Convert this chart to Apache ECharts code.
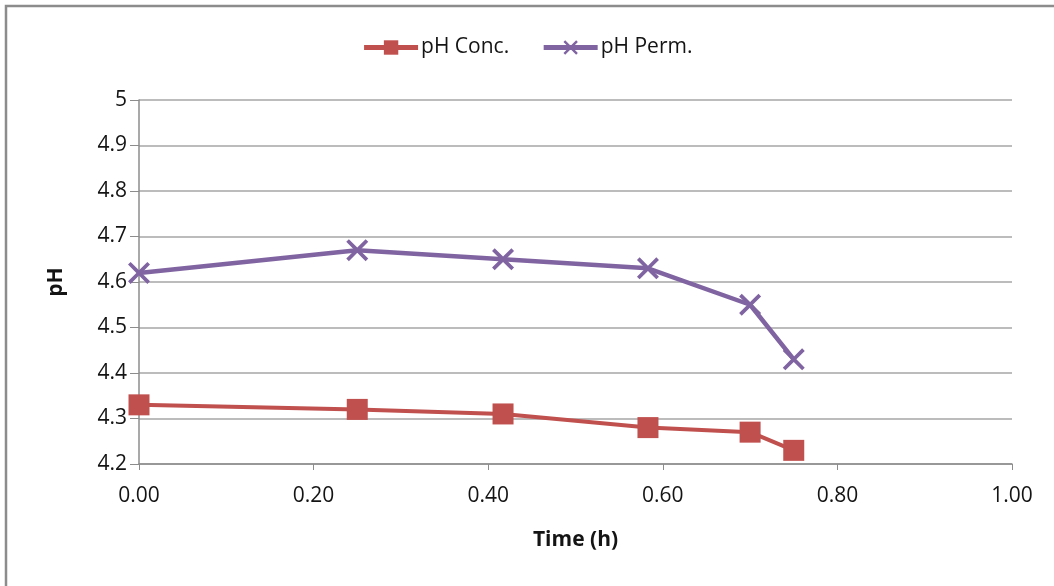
<!DOCTYPE html>
<html>
<head>
<meta charset="utf-8">
<script src="https://cdn.jsdelivr.net/npm/echarts@6/dist/echarts.min.js"></script>
<style>
  html, body { margin: 0; padding: 0; background: #fff; }
  #chart { width: 1054px; height: 586px; }
</style>
</head>
<body>
<div id="chart"></div>
<script>
// Sampling times (h) and measured pH of the two streams
const timeH = [0.00, 0.25, 0.417, 0.583, 0.70, 0.75];
const phConc = [4.33, 4.32, 4.31, 4.28, 4.27, 4.23];
const phPerm = [4.62, 4.67, 4.65, 4.63, 4.55, 4.43];
const seriesNames = ['pH Conc.', 'pH Perm.'];

const FONT = '"Open Sans", Lato, sans-serif';
const TEXT = '#141414';
const xMark = 'path://M0,1.2L1.2,0L5,3.8L8.8,0L10,1.2L6.2,5L10,8.8L8.8,10L5,6.2L1.2,10L0,8.8L3.8,5Z';

const chart = echarts.init(document.getElementById('chart'), null, { renderer: 'canvas' });
chart.setOption({
  backgroundColor: '#fff',
  animation: false,
  graphic: [{
    type: 'rect',
    shape: { x: 6, y: 6, width: 1100, height: 640 },
    style: { fill: 'none', stroke: '#8c8c8c', lineWidth: 2.5 },
    silent: true
  }],
  legend: {
    top: 32,
    left: 'center',
    itemGap: 32,
    itemWidth: 54,
    itemHeight: 18,
    lineStyle: { width: 5 },
    textStyle: { fontFamily: FONT, fontSize: 21, color: TEXT, padding: [0, 0, 0, -2] },
    data: seriesNames
  },
  grid: { left: 139, right: 42, top: 100, bottom: 122 },
  xAxis: {
    type: 'value',
    min: 0, max: 1, interval: 0.2,
    name: 'Time (h)',
    nameLocation: 'middle',
    nameGap: 66,
    nameTextStyle: { fontFamily: FONT, fontSize: 21, fontWeight: 'bold', color: TEXT },
    axisLine: { show: true, lineStyle: { color: '#8c8c8c', width: 1.5 } },
    axisTick: { show: true, inside: false, length: 6, lineStyle: { color: '#8c8c8c' } },
    axisLabel: { fontFamily: FONT, fontSize: 21, color: TEXT, margin: 22,
                 formatter: v => v.toFixed(2) },
    splitLine: { show: false }
  },
  yAxis: {
    type: 'value',
    min: 4.2, max: 5, interval: 0.1,
    name: 'pH',
    nameLocation: 'middle',
    nameGap: 72,
    nameRotate: 90,
    nameTextStyle: { fontFamily: FONT, fontSize: 21, fontWeight: 'bold', color: TEXT },
    axisLine: { show: true, lineStyle: { color: '#8c8c8c', width: 1.5 } },
    axisTick: { show: true, inside: false, length: 9, lineStyle: { color: '#8c8c8c' } },
    axisLabel: { fontFamily: FONT, fontSize: 21, color: TEXT, margin: 12,
                 formatter: v => String(Math.round(v * 10) / 10) },
    splitLine: { show: true, lineStyle: { color: '#a6a6a6', width: 1.5 } }
  },
  series: [
    {
      name: seriesNames[0],
      type: 'line',
      data: timeH.map((t, i) => [t, phConc[i]]),
      symbol: 'rect',
      symbolSize: 21,
      lineStyle: { color: '#C0504D', width: 4 },
      itemStyle: { color: '#C0504D' },
      z: 3
    },
    {
      name: seriesNames[1],
      type: 'line',
      data: timeH.map((t, i) => [t, phPerm[i]]),
      symbol: xMark,
      symbolSize: 22,
      lineStyle: { color: '#8064A2', width: 4.5 },
      itemStyle: { color: '#8064A2' },
      z: 3
    }
  ]
});
</script>
</body>
</html>
